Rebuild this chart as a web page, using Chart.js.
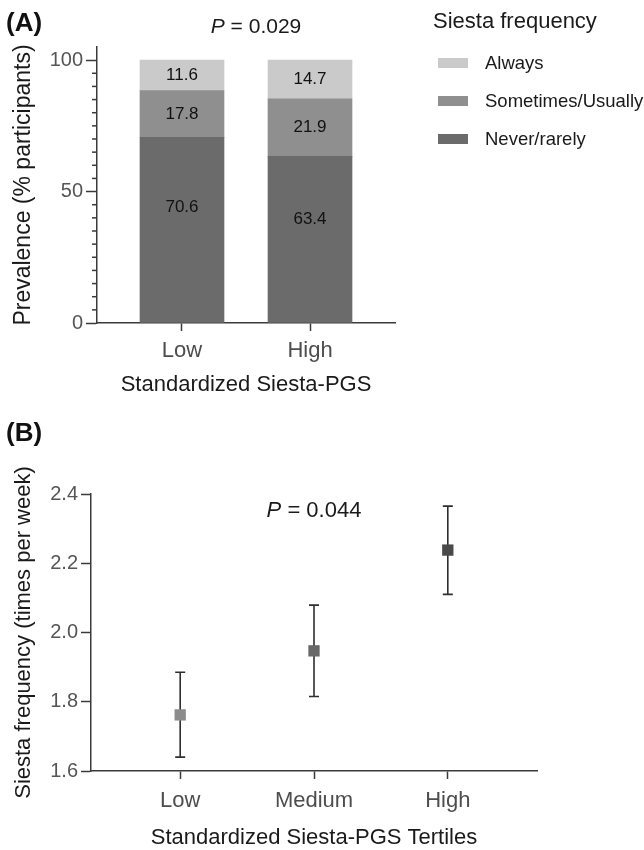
<!DOCTYPE html>
<html>
<head>
<meta charset="utf-8">
<script src="https://cdn.jsdelivr.net/npm/chart.js@4.4.1/dist/chart.umd.min.js"></script>
<style>
  html, body { margin: 0; padding: 0; background: #fff; overflow: hidden; }
  body { width: 644px; height: 850px; position: relative; font-family: "Liberation Sans", Arial, sans-serif; color: #1a1a1a; }
  canvas { position: absolute; left: 0; }
  #chartA { top: 0; }
  #chartB { top: 410px; }
  .txt { position: absolute; white-space: nowrap; line-height: 1; transform: translateY(-50%); }
  .mid { transform: translate(-50%, -50%); }
  .panel { font-weight: bold; font-size: 26px; color: #111; }
  .swatch { position: absolute; width: 30px; height: 10px; }
</style>
</head>
<body>
  <canvas id="chartA" width="644" height="410"></canvas>
  <canvas id="chartB" width="644" height="450"></canvas>

  <div class="txt panel" style="left:6px; top:22px">(A)</div>
  <div class="txt mid" style="left:256px; top:25px; font-size:21px"><i>P</i> = 0.029</div>

  <div class="txt" style="left:433px; top:21px; font-size:22px">Siesta frequency</div>
  <div id="legend"></div>

  <div class="txt panel" style="left:6px; top:432px">(B)</div>
  <div class="txt mid" style="left:314px; top:510px; font-size:22px"><i>P</i> = 0.044</div>

<script>
// panel A: siesta frequency by PGS group (% participants)
const groups = ['Low', 'High'];
const groupX = [1, 2];
const neverRarely = [70.6, 63.4];
const sometimesUsually = [17.8, 21.9];
const always = [11.6, 14.7];
const freqLabels = ['Never/rarely', 'Sometimes/Usually', 'Always'];
const freqColors = ['#6b6b6b', '#8f8f8f', '#cacaca'];
const prevTicks = [0, 50, 100];

// panel B: mean siesta frequency by tertile, with error bars
const tertiles = ['Low', 'Medium', 'High'];
const tertileX = [1, 2, 3];
const siestaMean = [1.762, 1.947, 2.238];
const siestaLow = [1.640, 1.815, 2.110];
const siestaHigh = [1.885, 2.079, 2.365];
const tertileColors = ['#8c8c8c', '#686868', '#4a4a4a'];
const freqTicks = [1.6, 1.8, 2.0, 2.2, 2.4];

const axisColor = '#3a3a3a';
const fontFamily = '"Liberation Sans", Arial, sans-serif';
Chart.defaults.font.family = fontFamily;

// html legend, top item first like the figure
const legendEl = document.getElementById('legend');
[2, 1, 0].forEach((d, row) => {
  const cy = 63 + row * 38;
  legendEl.insertAdjacentHTML('beforeend',
    `<div class="swatch" style="left:438px; top:${cy - 5}px; background:${freqColors[d]}"></div>` +
    `<div class="txt" style="left:485px; top:${cy}px; font-size:18.5px">${freqLabels[d]}</div>`);
});

const minorTicks = {
  id: 'minorTicks',
  afterDraw(chart) {
    const s = chart.scales.y, ctx = chart.ctx;
    ctx.save();
    ctx.strokeStyle = axisColor;
    ctx.lineWidth = 1.5;
    s.ticks.forEach(t => {
      if (prevTicks.includes(t.value)) return;
      const y = s.getPixelForValue(t.value);
      ctx.beginPath();
      ctx.moveTo(s.right - 5, y);
      ctx.lineTo(s.right, y);
      ctx.stroke();
    });
    ctx.restore();
  }
};

const barLabels = {
  id: 'barLabels',
  afterDatasetsDraw(chart) {
    const ctx = chart.ctx;
    ctx.save();
    ctx.fillStyle = '#111';
    ctx.font = '17px ' + fontFamily;
    ctx.textAlign = 'center';
    ctx.textBaseline = 'middle';
    chart.data.datasets.forEach((ds, d) => {
      chart.getDatasetMeta(d).data.forEach((bar, i) => {
        // bottom segment label sits higher than its middle, as in the figure
        const k = d === 0 ? 0.62 : 0.5;
        const y = bar.base - (bar.base - bar.y) * k;
        ctx.fillText(ds.data[i].y.toFixed(1), bar.x, y);
      });
    });
    ctx.restore();
  }
};

const stackSets = [neverRarely, sometimesUsually, always].map((vals, d) => ({
  label: freqLabels[d],
  data: vals.map((v, i) => ({ x: groupX[i], y: v })),
  backgroundColor: freqColors[d],
  borderWidth: 0,
  barThickness: 84
}));

new Chart(document.getElementById('chartA'), {
  type: 'bar',
  data: { datasets: stackSets },
  options: {
    responsive: false,
    animation: false,
    layout: { padding: { left: 0, right: 249, top: 0, bottom: 0 } },
    plugins: { legend: { display: false }, tooltip: { enabled: false } },
    scales: {
      x: {
        type: 'linear', stacked: true, offset: false, min: 0.336, max: 2.664,
        afterBuildTicks: s => { s.ticks = groupX.map(v => ({ value: v })); },
        afterFit: s => { s.height = 410 - 323; },
        border: { color: axisColor, width: 1.5 },
        grid: { offset: false, drawOnChartArea: false, tickLength: 8, tickWidth: 1.5, tickColor: axisColor },
        ticks: { padding: 7, color: '#4d4d4d', font: { size: 22 }, callback: v => groups[groupX.indexOf(v)] ?? '' },
        title: { display: true, text: 'Standardized Siesta-PGS', color: '#1a1a1a', font: { size: 22 }, padding: { top: 0, bottom: 12 } }
      },
      y: {
        stacked: true, min: 0, max: 105,
        afterBuildTicks: s => { s.ticks = []; for (let v = 0; v <= 100; v += 5) s.ticks.push({ value: v }); },
        afterFit: s => { s.width = 97; s.paddingTop = 47; s.paddingBottom = 0; },
        border: { color: axisColor, width: 1.5 },
        grid: {
          drawOnChartArea: false, tickLength: 11, tickWidth: 1.5,
          tickColor: c => prevTicks.includes(c.tick.value) ? axisColor : 'rgba(0,0,0,0)'
        },
        ticks: { autoSkip: false, padding: 3, color: '#555', font: { size: 20 }, callback: v => prevTicks.includes(v) ? v : '' },
        title: { display: true, text: 'Prevalence (% participants)', color: '#1a1a1a', font: { size: 23 }, padding: { top: 10, bottom: 0 } }
      }
    }
  },
  plugins: [minorTicks, barLabels]
});

const errorBars = {
  id: 'errorBars',
  beforeDatasetsDraw(chart) {
    const { ctx, scales: { x, y } } = chart;
    ctx.save();
    ctx.strokeStyle = '#2e2e2e';
    ctx.lineWidth = 1.6;
    tertileX.forEach((v, i) => {
      const px = x.getPixelForValue(v);
      const top = y.getPixelForValue(siestaHigh[i]);
      const bot = y.getPixelForValue(siestaLow[i]);
      ctx.beginPath();
      ctx.moveTo(px, top); ctx.lineTo(px, bot);
      ctx.moveTo(px - 5, top); ctx.lineTo(px + 5, top);
      ctx.moveTo(px - 5, bot); ctx.lineTo(px + 5, bot);
      ctx.stroke();
    });
    ctx.restore();
  }
};

new Chart(document.getElementById('chartB'), {
  type: 'scatter',
  data: {
    datasets: [{
      label: 'Siesta frequency',
      data: tertileX.map((x, i) => ({ x: x, y: siestaMean[i] })),
      pointStyle: 'rect',
      pointRadius: 8,
      pointHoverRadius: 8,
      backgroundColor: tertileColors,
      borderWidth: 0
    }]
  },
  options: {
    responsive: false,
    animation: false,
    layout: { padding: { left: 0, right: 107, top: 0, bottom: 0 } },
    plugins: { legend: { display: false }, tooltip: { enabled: false } },
    scales: {
      x: {
        type: 'linear', min: 1 / 3, max: 11 / 3,
        afterBuildTicks: s => { s.ticks = tertileX.map(v => ({ value: v })); },
        afterFit: s => { s.height = 450 - 361; },
        border: { color: axisColor, width: 1.5 },
        grid: { drawOnChartArea: false, tickLength: 8, tickWidth: 1.5, tickColor: axisColor },
        ticks: { padding: 9, color: '#4d4d4d', font: { size: 22 }, callback: v => tertiles[tertileX.indexOf(v)] ?? '' },
        title: { display: true, text: 'Standardized Siesta-PGS Tertiles', color: '#1a1a1a', font: { size: 22 }, padding: { top: 0, bottom: 9 } }
      },
      y: {
        min: 1.6, max: 2.4,
        afterBuildTicks: s => { s.ticks = freqTicks.map(v => ({ value: v })); },
        afterFit: s => { s.width = 91; s.paddingTop = 84; s.paddingBottom = 0; },
        border: { color: axisColor, width: 1.5 },
        grid: { drawOnChartArea: false, tickLength: 10, tickWidth: 1.5, tickColor: axisColor },
        ticks: { autoSkip: false, padding: 3, color: '#555', font: { size: 20 }, callback: v => v.toFixed(1) },
        title: { display: true, text: 'Siesta frequency (times per week)', color: '#1a1a1a', font: { size: 22 }, padding: { top: 11, bottom: 0 } }
      }
    }
  },
  plugins: [errorBars]
});
</script>
</body>
</html>
